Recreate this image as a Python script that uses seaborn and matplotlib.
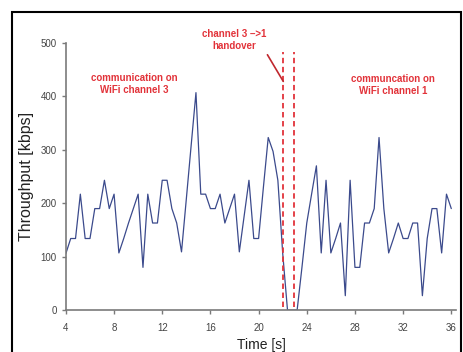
import numpy as np
import pandas as pd
import matplotlib
matplotlib.use("Agg")
import matplotlib.pyplot as plt
from matplotlib.patches import Rectangle
import seaborn as sns

# ---- data ----
time_s = [round(4 + 0.4 * i, 1) for i in range(81)]
throughput_kbps = [
    106, 134, 134, 217, 134, 134, 190, 190, 243, 190,
    217, 107, 134, 163, 190, 217, 80, 217, 163, 163,
    243, 243, 190, 163, 109, 208, 308, 407, 217, 217,
    190, 190, 217, 163, 190, 217, 109, 176, 243, 134,
    134, 230, 323, 297, 243, 107, 0, 0, 0, 80,
    163, 217, 270, 107, 243, 107, 134, 163, 27, 243,
    80, 80, 163, 163, 190, 323, 190, 107, 134, 163,
    134, 134, 163, 163, 27, 134, 190, 190, 107, 217,
    190,
]
handover_lines = [22.0, 22.9]
x_ticks = [4, 8, 12, 16, 20, 24, 28, 32, 36]
y_ticks = [0, 100, 200, 300, 400, 500]
label_left = "communication on\nWiFi channel 3"
label_right = "communcation on\nWiFi channel 1"
label_handover = "channel 3 \u2013>1\nhandover"

df = pd.DataFrame({"Time [s]": time_s, "Throughput [kbps]": throughput_kbps})

sns.set_theme(style="white")
plt.rcParams["font.family"] = ["Liberation Sans", "DejaVu Sans"]

fig = plt.figure(figsize=(4.64, 3.52), dpi=100)
ax = fig.add_axes([0.142, 0.119, 0.841, 0.759])

sns.lineplot(data=df, x="Time [s]", y="Throughput [kbps]", ax=ax,
             color="#3b4a8c", linewidth=0.9)

red = "#e2333a"
for xv in handover_lines:
    ax.axvline(xv, ymin=0.01, ymax=0.965, color=red, linestyle=(0, (3, 2)),
               linewidth=1.3)

ax.set_xlim(4, 36.4)
ax.set_ylim(0, 500)
ax.set_xticks(x_ticks)
ax.set_yticks(y_ticks)

for s in ["top", "right"]:
    ax.spines[s].set_visible(False)
for s in ["left", "bottom"]:
    ax.spines[s].set_color("#7a7a7a")
    ax.spines[s].set_linewidth(1.2)

ax.tick_params(axis="both", which="major", labelsize=7, colors="#7a7a7a",
               labelcolor="#444444", length=3, width=1, direction="out",
               bottom=True, left=True)
ax.tick_params(axis="x", pad=6)
ax.set_xlabel("Time [s]", fontsize=10, color="#222222", labelpad=4)
ax.set_ylabel("Throughput [kbps]", fontsize=11.5, color="#222222", labelpad=5)

ax.text(9.7, 423, label_left, ha="center", va="center", fontsize=7,
        fontweight="bold", color=red, linespacing=1.3)
ax.text(31.15, 421, label_right, ha="center", va="center", fontsize=7,
        fontweight="bold", color=red, linespacing=1.3)
ax.annotate(label_handover, xy=(22.05, 428), xytext=(18.0, 505),
            ha="center", va="center", fontsize=7, fontweight="bold",
            color=red, linespacing=1.3, annotation_clip=False,
            arrowprops=dict(arrowstyle="-", color="#c0282e", lw=1.2,
                            shrinkA=0, shrinkB=0,
                            relpos=(0.95, 0.15)))

# figure frame
W, H = 464, 352
fig.patches.append(Rectangle((12 / W, -0.05), (461 - 12) / W, (H - 12) / H + 0.05,
                             transform=fig.transFigure, fill=False,
                             edgecolor="black", linewidth=1.5))

fig.savefig("out.png", dpi=100)
